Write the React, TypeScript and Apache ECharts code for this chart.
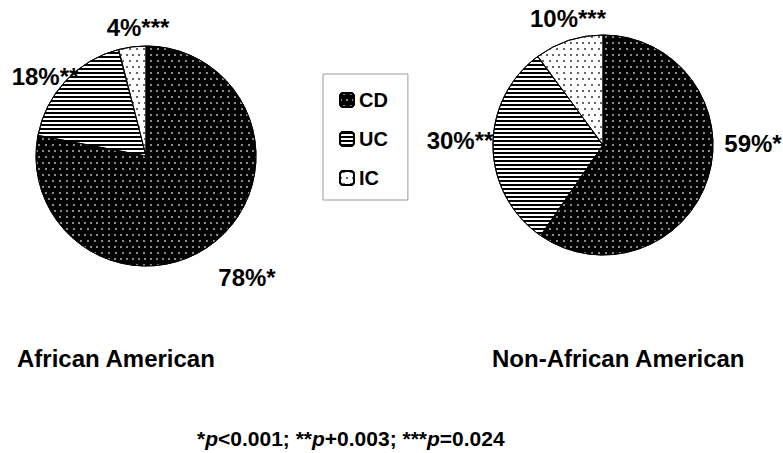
import React, { useEffect, useRef } from "react";
import * as echarts from "echarts";

const categories = ["CD", "UC", "IC"];
const africanAmerican = [78, 18, 4];
const nonAfricanAmerican = [59, 30, 10];
const stars = ["*", "**", "***"];
const groupTitles = ["African American", "Non-African American"];

const FONT = "'Liberation Sans', Arial, Helvetica, sans-serif";

// label anchor offsets relative to each pie's centre (layout only)
const labelOffsets = [
  [[101, 121], [-101, -80], [-8, -129]],
  [[150, -2], [-143, -5], [-35, -127]],
];
const centers = [[146, 156], [603, 145]];

const decals: any[] = [
  {
    symbol: "rect",
    symbolSize: 1,
    color: "#8a8a8a",
    backgroundColor: "#000",
    dashArrayX: [[1.2, 3.8], [0, 2.5, 1.2, 1.3]],
    dashArrayY: [1.2, 3.3],
  },
  {
    symbol: "rect",
    symbolSize: 1,
    color: "#000",
    backgroundColor: "#fff",
    dashArrayX: [[1, 0]],
    dashArrayY: [1.8, 1.4],
  },
  {
    symbol: "rect",
    symbolSize: 1,
    color: "#666",
    backgroundColor: "#fff",
    dashArrayX: [[1.2, 3.8], [0, 2.5, 1.2, 1.3]],
    dashArrayY: [1.2, 3.3],
  },
];
const baseColors = ["#000", "#fff", "#fff"];

function buildSeries(values: number[], idx: number): any {
  return {
    type: "pie",
    name: groupTitles[idx],
    center: centers[idx],
    radius: 110,
    startAngle: 90,
    clockwise: true,
    silent: true,
    emphasis: { disabled: true },
    label: {
      show: true,
      position: "outside",
      overflow: "none",
      edgeDistance: 0,
      formatter: (p: any) => `${p.value}%${stars[p.dataIndex]}`,
      fontFamily: FONT,
      fontSize: 24,
      fontWeight: "bold",
      color: "#000",
    },
    labelLine: { show: false },
    labelLayout: (p: any) => {
      const off = labelOffsets[idx][p.dataIndex];
      return {
        x: centers[idx][0] + off[0],
        y: centers[idx][1] + off[1],
        align: "center",
        verticalAlign: "middle",
      };
    },
    itemStyle: { borderColor: "#000", borderWidth: 1 },
    data: categories.map((c, i) => ({
      name: c,
      value: values[i],
      itemStyle: { color: baseColors[i], decal: decals[i] },
    })),
  };
}

export default function App() {
  const ref = useRef<HTMLDivElement>(null);
  useEffect(() => {
    document.body.style.margin = "0";
    if (!ref.current) return;
    const chart = echarts.init(ref.current, null, { renderer: "svg" });
    chart.setOption({
      animation: false,
      backgroundColor: "#fff",
      legend: {
        orient: "vertical",
        left: 323,
        top: 74,
        data: categories,
        itemWidth: 14,
        itemHeight: 14,
        itemGap: 19,
        padding: [16, 20, 12, 16],
        borderColor: "#999",
        borderWidth: 1,
        selectedMode: false,
        textStyle: {
          fontFamily: FONT,
          fontSize: 20,
          fontWeight: "bold",
          color: "#000",
          lineHeight: 20,
        },
      },
      series: [buildSeries(africanAmerican, 0), buildSeries(nonAfricanAmerican, 1)],
      graphic: [
        {
          type: "text",
          left: 17,
          top: 346,
          style: {
            text: groupTitles[0],
            font: `bold 24px ${FONT}`,
            fill: "#000",
          },
        },
        {
          type: "text",
          left: 492,
          top: 346,
          style: {
            text: groupTitles[1],
            font: `bold 24px ${FONT}`,
            fill: "#000",
          },
        },
        {
          type: "text",
          left: 197,
          top: 428,
          style: {
            text: "{n|*}{i|p}{n|<0.001; **}{i|p}{n|+0.003; ***}{i|p}{n|=0.024}",
            rich: {
              n: { fontFamily: FONT, fontSize: 21, fontWeight: "bold", fill: "#000" },
              i: {
                fontFamily: FONT,
                fontSize: 21,
                fontWeight: "bold",
                fontStyle: "italic",
                fill: "#000",
              },
            },
          },
        },
      ],
    });
    return () => chart.dispose();
  }, []);
  return <div ref={ref} style={{ width: 783, height: 453 }} />;
}
